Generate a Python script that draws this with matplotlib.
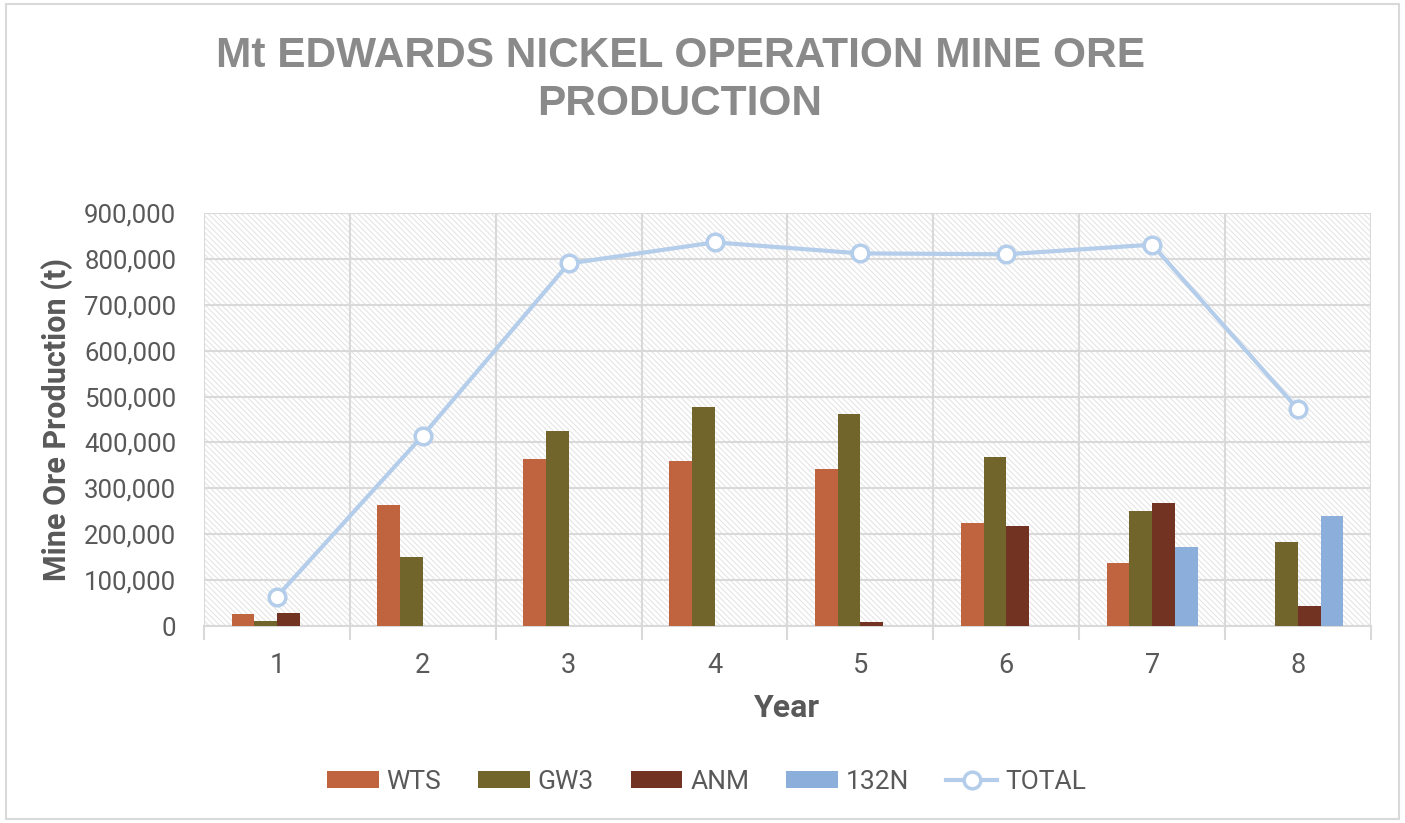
#!/usr/bin/env python3

import matplotlib
matplotlib.use('Agg')
from matplotlib import pyplot as plt
from matplotlib.patches import Rectangle, Patch
from matplotlib.ticker import FuncFormatter, FixedLocator
from matplotlib.lines import Line2D


years = [1, 2, 3, 4, 5, 6, 7, 8]
wts = [26000, 264000, 364000, 359000, 342000, 225000, 137000, 0]
gw3 = [10000, 151000, 425000, 477000, 462000, 368000, 251000, 183000]
anm = [29000, 0, 0, 0, 8000, 217000, 269000, 44000]
n132 = [0, 0, 0, 0, 0, 0, 173000, 239000]
total = [64000, 415000, 790000, 836000, 812000, 810000, 831000, 472000]

series = [
    ('WTS', wts, '#C0633F'),
    ('GW3', gw3, '#72652B'),
    ('ANM', anm, '#723323'),
    ('132N', n132, '#8CAEDB'),
]
line_color = '#B4CDEA'
grid_color = '#D9D9D9'
text_color = '#595959'

plt.rcParams['font.family'] = ['Roboto', 'DejaVu Sans']
plt.rcParams['hatch.linewidth'] = 0.7
plt.rcParams['hatch.color'] = '#E2E2E2'

fig = plt.figure(figsize=(14.05, 8.23), dpi=100)
ax = fig.add_axes([204 / 1405, 1 - 626 / 823, (1371 - 204) / 1405, (626 - 213) / 823])

# figure border
fig.patches.append(Rectangle((0.004, 0.005), 0.992, 0.99, transform=fig.transFigure,
                             fill=False, edgecolor=grid_color, lw=1.5))

# hatched plot area
ax.add_patch(Rectangle((0, 0), 1, 1, transform=ax.transAxes, facecolor='white',
                       hatch='\\' * 6, lw=0, zorder=0))

w = 0.1556
for i, (name, vals, color) in enumerate(series):
    xs = [y + (i - 1.5) * w for y in years]
    ax.bar(xs, vals, width=w, color=color, zorder=3, label=name)

ax.plot(years, total, color=line_color, lw=3, marker='o', markersize=12,
        markerfacecolor='white', markeredgecolor=line_color, markeredgewidth=2.5,
        zorder=4, label='TOTAL')

ax.set_xlim(0.5, 8.5)
ax.set_ylim(0, 900000)
ax.yaxis.set_major_locator(FixedLocator(range(0, 900001, 100000)))
ax.yaxis.set_major_formatter(FuncFormatter(lambda v, p: '{:,.0f}'.format(v)))
ax.set_xticks([y + 0.5 for y in [0] + years])
ax.set_xticklabels([])
ax.set_xticks(years, minor=True)
ax.set_xticklabels([str(y) for y in years], minor=True)

ax.grid(True, axis='both', which='major', color=grid_color, lw=1.5, zorder=1)
ax.set_axisbelow(True)
for s in ax.spines.values():
    s.set_visible(False)
ax.spines['bottom'].set_visible(True)
ax.spines['bottom'].set_color(grid_color)
ax.spines['bottom'].set_linewidth(1.5)

ax.tick_params(axis='y', length=0, labelsize=18.5, labelcolor=text_color, pad=20)
ax.tick_params(axis='x', which='major', length=10, width=1.5, color=grid_color)
ax.tick_params(axis='x', which='minor', length=0, labelsize=19.5, labelcolor=text_color, pad=19)

ax.set_xlabel('Year', fontsize=23, fontweight='bold', color=text_color, labelpad=10)
ax.set_ylabel('Mine Ore Production (t)', fontsize=22, fontweight='bold', color=text_color,
              labelpad=8)

fig.text(0.484, 1 - 80 / 823, 'Mt EDWARDS NICKEL OPERATION MINE ORE\nPRODUCTION',
         ha='center', va='center', fontsize=30.5, fontweight='bold', color='#8A8A8A',
         family=['Liberation Sans', 'DejaVu Sans'], linespacing=1.25)

handles = [Patch(facecolor=c, label=n) for n, _, c in series]
handles.append(Line2D([], [], color=line_color, lw=3, marker='o', markersize=12,
                      markerfacecolor='white', markeredgecolor=line_color,
                      markeredgewidth=2.5, label='TOTAL'))
fig.legend(handles=handles, loc='center', bbox_to_anchor=(0.503, 1 - 782 / 823), ncol=5,
           frameon=False, fontsize=19, labelcolor=text_color, handlelength=1.95,
           handleheight=0.6, handletextpad=0.3, columnspacing=1.4)

fig.savefig('out.png', dpi=100)
